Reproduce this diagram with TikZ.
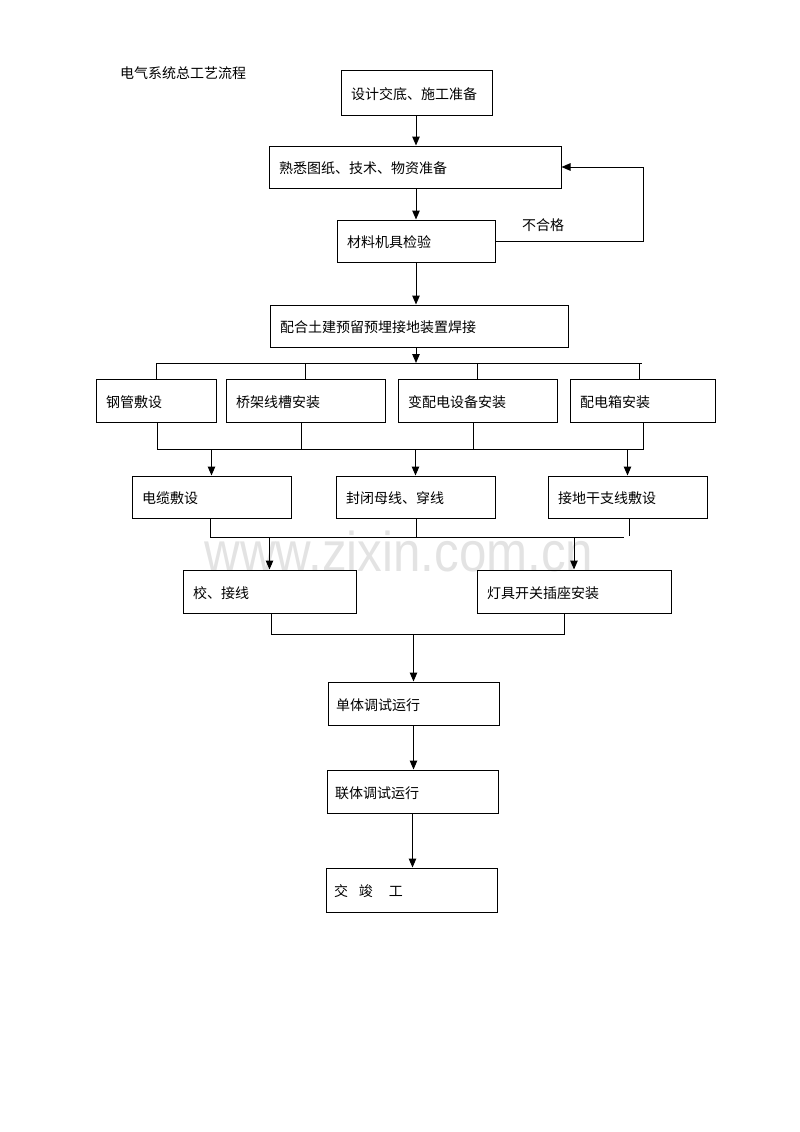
\documentclass[tikz,border=0pt]{standalone}
\usepackage{fontspec}
\newfontfamily\cjkfont{Noto Sans CJK SC}
\newfontfamily\wmfont{Liberation Sans}
\usetikzlibrary{arrows.meta}
\begin{document}
\begin{tikzpicture}[x=1pt,y=-1pt,
  every node/.style={font=\cjkfont\fontsize{14pt}{16pt}\selectfont},
  flow/.style={draw, line width=1pt, inner xsep=10pt, inner ysep=0pt, align=left,
    text height=13.6pt, text depth=0pt},
  flowb/.style={flow, inner xsep=8pt},
  plain/.style={inner sep=0pt},
  ln/.style={line width=1pt},
  arr/.style={line width=1pt, -{Triangle[length=9pt,width=7.5pt]}}]
\useasboundingbox (0,0) rectangle (800,1132);
% watermark
\node[anchor=base, font=\wmfont\fontsize{56pt}{56pt}\selectfont, text=black!11, xscale=0.88] (wm) at (399,571) {www.zixin.com.cn};
% title
\node[plain, anchor=west] (title) at (120,73) {电气系统总工艺流程};
% boxes
\node[flow, minimum width=151pt, minimum height=44pt, text width=131pt] (b1) at (416.5,93) {设计交底、施工准备};
\node[flow, minimum width=292pt, minimum height=42pt, text width=272pt] (b2) at (415,167) {熟悉图纸、技术、物资准备};
\node[flow, minimum width=158pt, minimum height=42pt, text width=138pt] (b3) at (416,241) {材料机具检验};
\node[flow, minimum width=298pt, minimum height=42pt, text width=278pt] (b4) at (419,326) {配合土建预留预埋接地装置焊接};
\node[flow, minimum width=120pt, minimum height=43pt, text width=100pt] (r1) at (156,400.5) {钢管敷设};
\node[flow, minimum width=159pt, minimum height=43pt, text width=139pt] (r2) at (305.5,400.5) {桥架线槽安装};
\node[flow, minimum width=159pt, minimum height=43pt, text width=139pt] (r3) at (477.5,400.5) {变配电设备安装};
\node[flow, minimum width=145pt, minimum height=43pt, text width=125pt] (r4) at (642.5,400.5) {配电箱安装};
\node[flow, minimum width=159pt, minimum height=42pt, text width=139pt] (c1) at (211.5,497) {电缆敷设};
\node[flow, minimum width=159pt, minimum height=42pt, text width=139pt] (c2) at (415.5,497) {封闭母线、穿线};
\node[flow, minimum width=159pt, minimum height=42pt, text width=139pt] (c3) at (627.5,497) {接地干支线敷设};
\node[flow, minimum width=173pt, minimum height=43pt, text width=153pt] (d1) at (269.5,591.5) {校、接线};
\node[flow, minimum width=194pt, minimum height=43pt, text width=174pt] (d2) at (574,591.5) {灯具开关插座安装};
\node[flowb, minimum width=171pt, minimum height=43pt, text width=155pt] (e1) at (413.5,703.5) {单体调试运行};
\node[flowb, minimum width=171pt, minimum height=43pt, text width=155pt] (e2) at (412.5,791.5) {联体调试运行};
\node[flowb, minimum width=171pt, minimum height=44pt, text width=155pt] (e3) at (411.5,890) {交\hspace{11pt}竣\hspace{16pt}工};
\node[plain, anchor=west] (ng) at (522,225) {不合格};
% helper coordinates
\coordinate (sp) at (416,0);
\coordinate (fb) at (643,0);
\coordinate (bus1) at (0,363);
\coordinate (bus2) at (0,449);
\coordinate (bus3) at (0,537);
\coordinate (bus4) at (0,634);
\coordinate (busL) at (156,363);
\coordinate (busR) at (642,363);
% spine arrows
\draw[arr] (b1.south -| sp) -- (b2.north -| sp);
\draw[arr] (b2.south -| sp) -- (b3.north -| sp);
\draw[arr] (b3.south -| sp) -- (b4.north -| sp);
% feedback loop
\draw[arr] (b3.east) -- (b3.east -| fb) -- (fb |- b2.east) -- (b2.east);
% distribution bus
\draw[arr] (b4.south -| sp) -- (bus1 -| sp);
\draw[ln] (busL) -- (busR);
\draw[ln] (busL) -- (r1.north);
\draw[ln] (bus1 -| r2.north) -- (r2.north);
\draw[ln] (bus1 -| r3.north) -- (r3.north);
\coordinate (r4t) at (639,379);
\draw[ln] (r4t |- bus1) -- (r4t);
% collector 2
\coordinate (k1) at (157,0);
\coordinate (k2) at (301,0);
\coordinate (k3) at (473,0);
\coordinate (k4) at (643,0);
\draw[ln] (r1.south -| k1) -- (bus2 -| k1) -- (bus2 -| k4) -- (r4.south -| k4);
\draw[ln] (r2.south -| k2) -- (bus2 -| k2);
\draw[ln] (r3.south -| k3) -- (bus2 -| k3);
\draw[arr] (bus2 -| c1.north) -- (c1.north);
\draw[arr] (bus2 -| c2.north) -- (c2.north);
\draw[arr] (bus2 -| c3.north) -- (c3.north);
% collector 3
\coordinate (m1) at (210,0);
\coordinate (m2) at (416,0);
\coordinate (m3) at (624,0);
\coordinate (m4) at (629,536);
\draw[ln] (c1.south -| m1) -- (bus3 -| m1) -- (bus3 -| m3);
\draw[ln] (c2.south -| m2) -- (bus3 -| m2);
\draw[ln] (c3.south -| m4) -- (m4);
\draw[arr] (bus3 -| d1.north) -- (d1.north);
\draw[arr] (bus3 -| d2.north) -- (d2.north);
% collector 4
\coordinate (n1) at (271,0);
\coordinate (n2) at (564,0);
\draw[ln] (d1.south -| n1) -- (bus4 -| n1) -- (bus4 -| n2) -- (d2.south -| n2);
\draw[arr] (bus4 -| e1.north) -- (e1.north);
\draw[arr] (e1.south) -- (e1.south |- e2.north);
\draw[arr] (e2.south) -- (e2.south |- e3.north);
\end{tikzpicture}
\end{document}
